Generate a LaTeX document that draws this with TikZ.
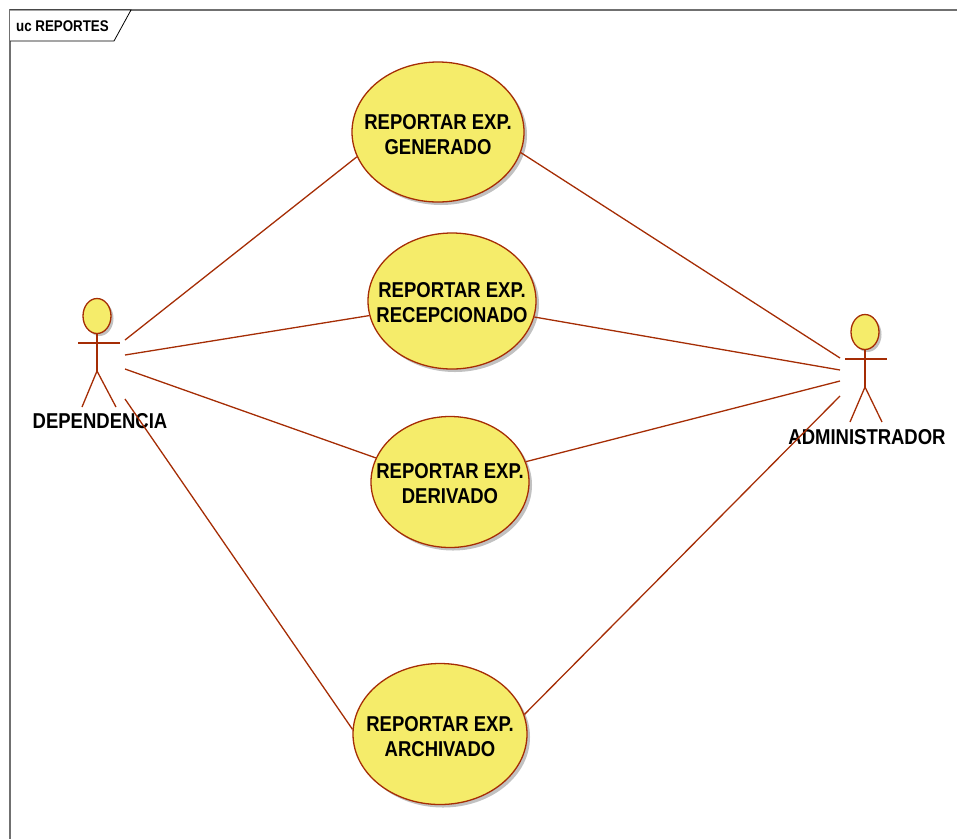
\documentclass[tikz,border=0pt]{standalone}
\usepackage{fontspec}
\setmainfont{Liberation Sans}[FakeStretch=0.86]
\usetikzlibrary{shapes.geometric,shadows}
\definecolor{ucline}{RGB}{165,45,5}
\definecolor{ucfill}{RGB}{245,236,106}
\definecolor{frameg}{RGB}{112,112,112}
\tikzset{
  usecase/.style={ellipse, draw=ucline, line width=1.3pt, fill=ucfill, inner sep=0pt,
    drop shadow={shadow xshift=3pt, shadow yshift=-3pt, fill=black!35, opacity=0.7}},
  uctext/.style={font=\bfseries\fontsize{21.5}{25}\selectfont, align=center, inner sep=0pt},
  assoc/.style={draw=ucline, line width=1.3pt},
  actorpart/.style={draw=ucline, line width=1.3pt},
  actorlabel/.style={font=\bfseries\fontsize{21.5}{25}\selectfont, inner sep=0pt},
}
\begin{document}
\begin{tikzpicture}[x=1pt,y=-1pt]
\useasboundingbox (0,0) rectangle (957,839);
% frame
\draw[frameg, line width=1.3pt] (957,10) -- (10,10) -- (10,839);
\draw[black, line width=0.8pt, fill=white] (10,10) -- (131,10) -- (114,41) -- (10,41);
\node[font=\bfseries\fontsize{15.5}{17}\selectfont, anchor=west, inner sep=0pt] (title) at (16,26) {uc REPORTES};

% use cases
\node[usecase, minimum width=172pt, minimum height=140pt] (gen) at (438,132) {};
\node[uctext] (gent) at (438,135) {REPORTAR EXP.\\GENERADO};
\node[usecase, minimum width=168pt, minimum height=136pt] (rec) at (452,301) {};
\node[uctext] (rect) at (452,303) {REPORTAR EXP.\\RECEPCIONADO};
\node[usecase, minimum width=158pt, minimum height=131pt] (der) at (450,482) {};
\node[uctext] (dert) at (450,484) {REPORTAR EXP.\\DERIVADO};
\node[usecase, minimum width=174pt, minimum height=141pt] (arc) at (440,734) {};
\node[uctext] (arct) at (440,737) {REPORTAR EXP.\\ARCHIVADO};

% actor DEPENDENCIA
\node[ellipse, actorpart, fill=ucfill, minimum width=28pt, minimum height=35pt, inner sep=0pt,
  drop shadow={shadow xshift=2.5pt, shadow yshift=-2.5pt, fill=black!35, opacity=0.7}] (dhead) at (97,316) {};
\coordinate (dhip) at (97,371);
\coordinate (darmL) at (78,343);
\coordinate (darmR) at (120,343);
\coordinate (dlegL) at (82,407);
\coordinate (dlegR) at (116,407);
\draw[actorpart] (dhead.south) -- (dhip);
\draw[actorpart] (darmL) -- (darmR);
\draw[actorpart] (dlegL) -- (dhip) -- (dlegR);
\node[actorlabel] (dlabel) at (100,421) {DEPENDENCIA};

% actor ADMINISTRADOR
\node[ellipse, actorpart, fill=ucfill, minimum width=28pt, minimum height=35pt, inner sep=0pt,
  drop shadow={shadow xshift=2.5pt, shadow yshift=-2.5pt, fill=black!35, opacity=0.7}] (ahead) at (865,332) {};
\coordinate (ahip) at (865,387);
\coordinate (aarmL) at (845,359);
\coordinate (aarmR) at (887,359);
\coordinate (alegL) at (850,422);
\coordinate (alegR) at (882,422);
\draw[actorpart] (ahead.south) -- (ahip);
\draw[actorpart] (aarmL) -- (aarmR);
\draw[actorpart] (alegL) -- (ahip) -- (alegR);
\node[actorlabel] (alabel) at (867,437) {ADMINISTRADOR};

% association end points near actors
\coordinate (d1) at (125,340);
\coordinate (d2) at (125,355);
\coordinate (d3) at (125,369);
\coordinate (d4) at (125,399);
\coordinate (a1) at (840,358);
\coordinate (a2) at (840,370);
\coordinate (a3) at (840,381);
\coordinate (a4) at (840,396);

\draw[assoc] (d1) -- (gen.197);
\draw[assoc] (d2) -- (rec.190);
\draw[assoc] (d3) -- (der.162);
\draw[assoc] (d4) -- (arc.177);
\draw[assoc] (a1) -- (gen.346);
\draw[assoc] (a2) -- (rec.349);
\draw[assoc] (a3) -- (der.15);
\draw[assoc] (a4) -- (arc.13);
\end{tikzpicture}
\end{document}
